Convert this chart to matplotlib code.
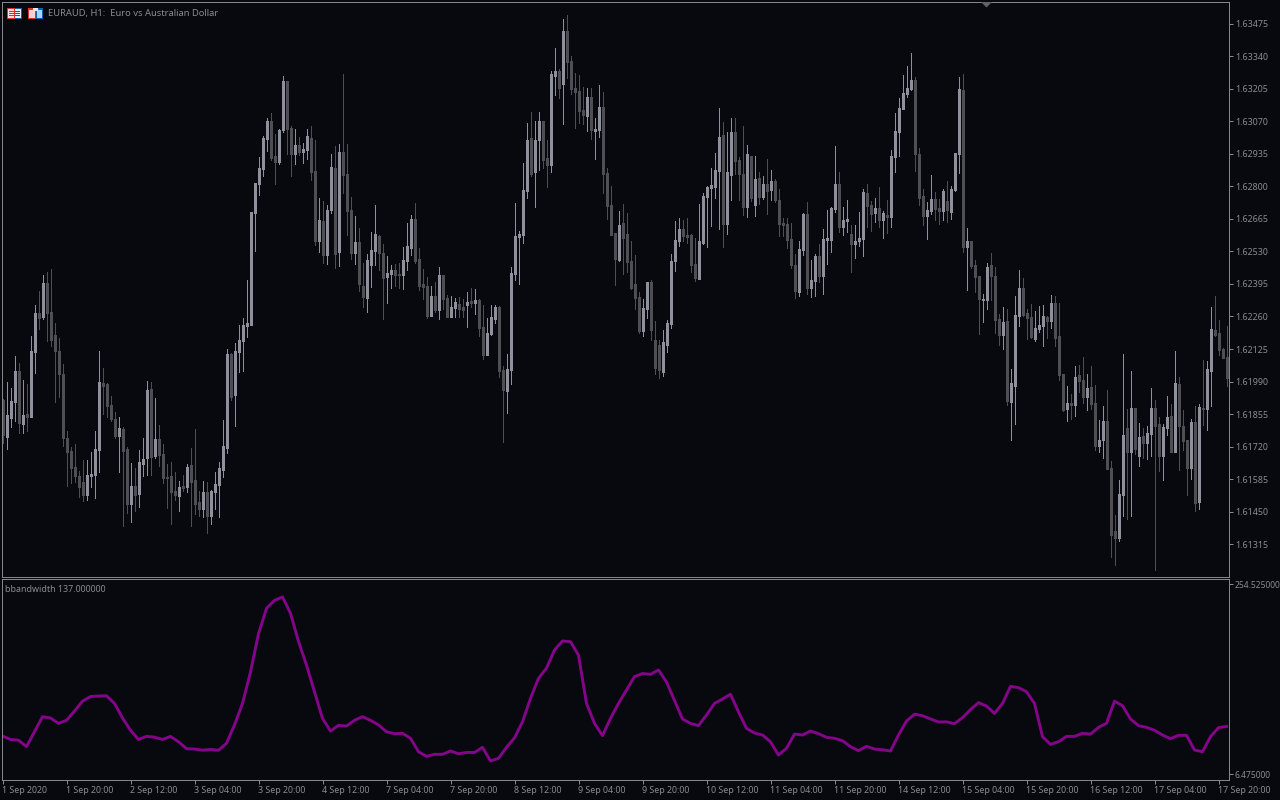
import numpy as np
from matplotlib import pyplot as plt
from matplotlib.patches import Rectangle, Polygon

# EURAUD H1 candles, prices written as points (61913 = 1.61913)
open_pts = [61913,61760,61839,61905,62034,61814,61855,61843,62113,62274,62258,62399,62278,62183,62117,62021,61756,61702,61635,61598,
61573,61519,61598,61602,61706,61984,61980,61893,61835,61764,61793,61710,61482,61557,61523,61648,61673,61959,61681,61752,
61689,61594,61598,61536,61515,61557,61552,61644,61581,61490,61461,61532,61432,61532,61561,61623,61714,62104,61934,62113,
62158,62220,62225,62689,62810,62872,62996,63071,62926,62901,63034,63237,63042,62934,62971,62942,62951,63000,62864,62573,
62656,62515,62702,62876,62527,62942,62851,62702,62523,62569,62386,62337,62474,62532,62594,62523,62424,62436,62453,62436,
62432,62490,62544,62664,62498,62395,62386,62262,62345,62287,62432,62337,62258,62295,62312,62299,62308,62324,62316,62328,
62216,62100,62187,62249,62299,62038,61951,62038,62436,62590,62598,62781,63000,62859,62992,63071,62917,62888,63258,63278,
63224,63444,63320,63208,63195,63117,63092,63171,63030,63034,63129,62855,62722,62606,62494,62648,62602,62490,62395,62341,
62200,62291,62403,62162,62142,62030,62142,62229,62490,62573,62623,62598,62598,62478,62415,62565,62756,62793,62797,62864,
63013,62644,62847,63025,62909,62851,62714,62926,62722,62834,62756,62810,62785,62822,62743,62648,62644,62581,62474,62361,
62536,62685,62378,62407,62511,62428,62577,62577,62706,62810,62631,62656,62602,62561,62573,62581,62772,62722,62689,62710,
62660,62681,62673,62922,63025,63121,63183,63204,63241,62934,62760,62677,62698,62747,62710,62698,62739,62693,62785,62934,
63200,62548,62573,62474,62428,62328,62328,62474,62428,62249,62183,62241,61905,61971,62262,62378,62274,62258,62166,62208,
62220,62258,62241,62316,62179,62021,61876,61901,61893,62017,61996,61926,61967,61901,61723,61747,61826,61631,61370,61341,
61519,61797,61698,61880,61681,61764,61735,61772,61880,61814,61681,61797,61847,61698,61980,61806,61747,61631,61822,61490,
61880,61876,62034,62204,62191,62125,62092]
high_pts = [61917,61988,61963,62096,62067,61996,61980,62179,62308,62366,62432,62444,62457,62233,62171,62063,61785,61718,61731,61619,
61665,61665,61698,61785,62117,62046,61984,61930,61864,61843,61801,61718,61652,61631,61706,61756,61992,61988,61922,61810,
61731,61648,61656,61615,61577,61602,61648,61714,61793,61536,61577,61573,61540,61615,61656,61830,62125,62108,62150,62225,
62254,62411,62693,62814,62922,63009,63083,63104,63017,63038,63258,63237,63050,63038,63005,62980,63038,63050,62992,62752,
62739,62722,62934,62967,62976,63266,62976,62756,62677,62627,62482,62519,62610,62722,62598,62561,62511,62474,62478,62482,
62548,62648,62681,62731,62544,62457,62424,62386,62403,62465,62432,62349,62345,62337,62341,62332,62361,62378,62374,62332,
62308,62254,62308,62308,62303,62054,62104,62465,62731,62615,62897,63063,63108,63071,63108,63071,62992,63278,63374,63287,
63494,63511,63341,63270,63262,63212,63208,63208,63083,63220,63191,62876,62801,62606,62698,62727,62689,62573,62515,62361,
62332,62403,62411,62241,62162,62204,62245,62519,62656,62669,62660,62669,62602,62586,62727,62772,62801,62876,62938,63125,
63067,63025,63083,63083,62922,63050,62971,62926,62926,62859,62843,62913,62868,62830,62789,62669,62669,62648,62519,62573,
62689,62735,62494,62519,62561,62623,62702,62714,62967,62859,62714,62743,62639,62639,62693,62789,62810,62739,62752,62797,
62698,62743,62951,63104,63166,63262,63299,63353,63254,62959,62789,62735,62847,62776,62747,62789,62822,62801,62938,63254,
63266,62627,62573,62494,62428,62353,62482,62523,62465,62270,62299,62291,62042,62345,62453,62420,62291,62312,62283,62303,
62308,62262,62349,62345,62316,62021,61971,61938,62054,62059,62092,62021,62054,61976,61830,61888,61955,61660,61436,61581,
62104,61876,62034,61880,61818,61797,61806,61963,61913,61843,61814,61930,61897,62117,62009,61872,61747,61835,61888,61897,
62079,62075,62299,62345,62245,62129,62220]
low_pts = [61735,61710,61801,61826,61776,61776,61785,61843,62025,62208,62249,62158,62137,61905,61926,61723,61557,61569,61573,61511,
61494,61498,61552,61507,61615,61855,61843,61826,61756,61615,61391,61445,61407,61453,61469,61598,61602,61602,61673,61640,
61569,61465,61399,61498,61453,61536,61532,61391,61440,61432,61428,61362,61399,61461,61428,61594,61694,61913,61805,62030,
62034,62175,62225,62532,62764,62843,62947,62909,62810,62893,63025,62934,62843,62893,62930,62897,62913,62826,62557,62527,
62482,62478,62689,62461,62469,62772,62598,62498,62478,62366,62299,62278,62382,62474,62453,62249,62316,62378,62386,62378,
62374,62453,62515,62482,62370,62332,62254,62262,62278,62249,62291,62258,62258,62258,62258,62258,62216,62299,62270,62179,
62083,62100,62183,62233,62009,61739,61859,61980,62411,62395,62565,62752,62843,62714,62868,62876,62797,62859,63179,63166,
63059,63249,63183,63042,63063,63059,63029,62996,62913,63005,62772,62664,62598,62391,62490,62436,62444,62374,62291,62191,
62179,62254,62162,62021,62005,62013,62113,62212,62449,62552,62573,62565,62444,62407,62415,62561,62548,62635,62752,62623,
62548,62602,62743,62851,62743,62681,62673,62739,62677,62727,62747,62685,62743,62735,62594,62594,62544,62461,62337,62345,
62515,62353,62341,62345,62403,62353,62478,62527,62693,62610,62598,62610,62444,62503,62552,62511,62631,62615,62652,62631,
62586,62606,62631,62859,62926,63121,63171,63200,62864,62722,62639,62581,62685,62660,62644,62660,62652,62664,62781,62855,
62527,62370,62461,62361,62187,62237,62291,62328,62191,62142,62125,61893,61747,61814,62220,62262,62166,62171,62158,62195,
62137,62171,62212,62137,61996,61868,61826,61835,61847,61947,61901,61872,61876,61706,61698,61673,61627,61262,61229,61328,
61432,61420,61432,61689,61640,61673,61669,61681,61208,61619,61581,61768,61698,61698,61623,61706,61519,61586,61453,61461,
61810,61789,61888,62179,62100,62087,61971]
close_pts = [61768,61851,61909,62034,61818,61851,61843,62117,62274,62254,62399,62274,62162,62117,62021,61756,61698,61631,61598,61552,
61519,61602,61606,61710,61988,61971,61888,61835,61764,61797,61702,61482,61557,61519,61656,61669,61955,61677,61752,61685,
61590,61590,61532,61519,61552,61548,61635,61573,61482,61461,61532,61432,61536,61565,61631,61723,62104,61926,62117,62162,
62225,62233,62693,62814,62876,63000,63071,62917,62901,63034,63237,63038,62934,62971,62942,62955,63009,62859,62573,62660,
62515,62702,62880,62519,62942,62847,62698,62523,62569,62395,62341,62494,62536,62602,62523,62420,62440,62453,62432,62432,
62494,62552,62664,62490,62386,62382,62262,62345,62287,62432,62332,62258,62299,62320,62291,62287,62320,62316,62328,62212,
62100,62191,62258,62299,62034,61955,62042,62440,62594,62602,62785,62992,62851,62992,63071,62909,62888,63266,63278,63208,
63444,63316,63204,63191,63112,63096,63171,63034,63038,63129,62851,62718,62598,62498,62640,62586,62486,62378,62337,62200,
62295,62403,62204,62046,62038,62154,62233,62490,62577,62623,62594,62590,62474,62420,62573,62760,62797,62805,62868,63005,
62644,62859,63025,62905,62851,62714,62934,62751,62830,62756,62810,62781,62822,62743,62644,62639,62577,62474,62366,62540,
62685,62378,62411,62511,62428,62581,62586,62710,62810,62631,62660,62664,62561,62573,62586,62776,62718,62685,62710,62660,
62689,62673,62926,63030,63125,63187,63208,63241,62934,62751,62677,62702,62747,62706,62698,62781,62702,62789,62938,63204,
62548,62573,62469,62424,62332,62332,62465,62428,62245,62183,62237,61909,61984,62266,62378,62266,62254,62175,62212,62225,
62262,62241,62316,62171,62017,61872,61901,61893,62009,61992,61926,61963,61897,61723,61747,61826,61627,61353,61341,61523,
61768,61698,61880,61710,61760,61735,61776,61880,61806,61681,61801,61843,61698,61984,61806,61743,61631,61822,61486,61884,
61876,62042,62208,62183,62121,62088,62005]

# bbandwidth(137), one reading every second bar
bandwidth = [56.5,52,51,42.6,62,81.7,80,73,77,89,102,108,108.7,109,99,80,64,52,56,55,52,56,49,40,39.5,38,39,38,47,71,
99,140,190,223,233.5,238,216.6,180,149,114,79.5,63,70.4,69.5,77,81.7,77,71,62,59.5,60,53.5,36,30,32.6,32.6,37,33.4,35,35,
41.7,23.9,27.4,41.7,54,75,105.6,131.7,145,168.7,180.5,179.6,162,99,73,57,79.5,99,116.5,134,138,137,142.6,127,103,78.7,73,70,83.9,99,
104.8,111,88,66.5,60.4,57.8,49,31.7,40.4,59,57.8,63,59.5,54.8,53.5,50.4,42.6,37.4,43,39.5,38.6,36.9,57.8,76,85,83,78.7,74.8,75,72.6,
80.4,91,100,95.6,86,99,121.3,119.6,114.3,99,55.6,45.6,49,56,56,60,59,67.8,73,102,96,78.7,70,67.8,64,57.8,53,57.4,57.4,38.2,
36,55.6,67.4,69]

price_ticks = [1.63475,1.63340,1.63205,1.63070,1.62935,1.62800,1.62665,1.62530,1.62395,1.62260,
               1.62125,1.61990,1.61855,1.61720,1.61585,1.61450,1.61315]
band_ticks = [254.525, 6.475]
time_labels = ['1 Sep 2020','1 Sep 20:00','2 Sep 12:00','3 Sep 04:00','3 Sep 20:00','4 Sep 12:00','7 Sep 04:00',
               '7 Sep 20:00','8 Sep 12:00','9 Sep 04:00','9 Sep 20:00','10 Sep 12:00','11 Sep 04:00','11 Sep 20:00',
               '14 Sep 12:00','15 Sep 04:00','15 Sep 20:00','16 Sep 12:00','17 Sep 04:00','17 Sep 20:00']

BG = '#08090e'
UP = '#8e909e'
DOWN = '#4e4e53'
FRAME = '#85858a'
TEXT = '#8a8a90'
W, H = 1280, 800
FONT = 6.4

plt.rcParams['font.family'] = ['Noto Sans', 'DejaVu Sans']
plt.rcParams['font.size'] = FONT


def panel(left, top, right, bottom):
    return fig.add_axes([left / W, 1 - bottom / H, (right - left) / W, (bottom - top) / H], facecolor=BG)


fig = plt.figure(figsize=(W / 100, H / 100), dpi=100, facecolor=BG)
ax = panel(2, 2, 1229, 577)
ax2 = panel(2, 579, 1229, 780)

o = np.array(open_pts) / 1e5 + 1
h = np.array(high_pts) / 1e5 + 1
l = np.array(low_pts) / 1e5 + 1
c = np.array(close_pts) / 1e5 + 1
x = np.arange(len(o))
up = c >= o
colors = np.where(up, UP, DOWN)

ax.vlines(x, l, h, colors=colors, lw=0.72, antialiased=False)
ax.vlines(x, np.minimum(o, c), np.maximum(o, c), colors=colors, lw=2.16, antialiased=False, capstyle='butt')

ax2.plot(np.arange(len(bandwidth)) * 2, bandwidth, color='#85058a', lw=2.1, solid_joinstyle='round')

for a in (ax, ax2):
    a.set_xlim(-0.125, 306.625)
    a.yaxis.tick_right()
    a.tick_params(axis='y', colors=TEXT, length=2.9, width=0.72, pad=1.5, labelsize=FONT)
    for s in a.spines.values():
        s.set_color(FRAME)
        s.set_linewidth(0.72)

ax.set_ylim(1.61179, 1.63565)
ax.set_yticks(price_ticks, ['%.5f' % v for v in price_ticks])
ax.set_xticks([])

ax2.set_ylim(-0.9, 261.4)
ax2.set_yticks(band_ticks, ['%.6f' % v for v in band_ticks])
ax2.tick_params(axis='y', labelsize=6.1, pad=1.2)
ax2.set_xticks(np.arange(len(time_labels)) * 16, time_labels, ha='left')
ax2.tick_params(axis='x', colors=TEXT, length=2.9, width=0.72, pad=1.5, labelsize=FONT)

fig.text(48 / W, 1 - 13.5 / H, 'EURAUD, H1:  Euro vs Australian Dollar', color=TEXT, va='center', fontsize=6.75)
fig.text(5 / W, 1 - 589 / H, 'bbandwidth 137.000000', color=TEXT, va='center', fontsize=FONT)


def box(x0, y0, w, h_, color):
    fig.add_artist(Rectangle((x0 / W, 1 - (y0 + h_) / H), w / W, h_ / H, transform=fig.transFigure,
                             facecolor=color, edgecolor='none', antialiased=False))


# the two toolbar icons next to the symbol name
box(7, 8, 8, 11, '#e03030'); box(15, 8, 7, 11, '#1060b0')
box(8, 9, 6, 9, '#ffe0e0'); box(15, 9, 6, 9, '#e0f0ff')
for yy in (11, 13, 15):
    box(9, yy, 5, 1, '#e03030'); box(15, yy, 5, 1, '#1060b0')
box(28, 8, 8, 11, '#e03030'); box(36, 8, 7, 11, '#1060b0')
box(29, 10, 6, 8, '#ffd0d0'); box(37, 10, 5, 8, '#a0d8ff')
box(33, 8, 5, 3, '#e8e8e8')

# small shift marker on the top edge
fig.add_artist(Polygon([(981 / W, 1 - 2 / H), (992 / W, 1 - 2 / H), (986.5 / W, 1 - 7.5 / H)],
                       transform=fig.transFigure, facecolor='#606066', edgecolor='none'))

fig.savefig('out.png', dpi=100, facecolor=BG)
